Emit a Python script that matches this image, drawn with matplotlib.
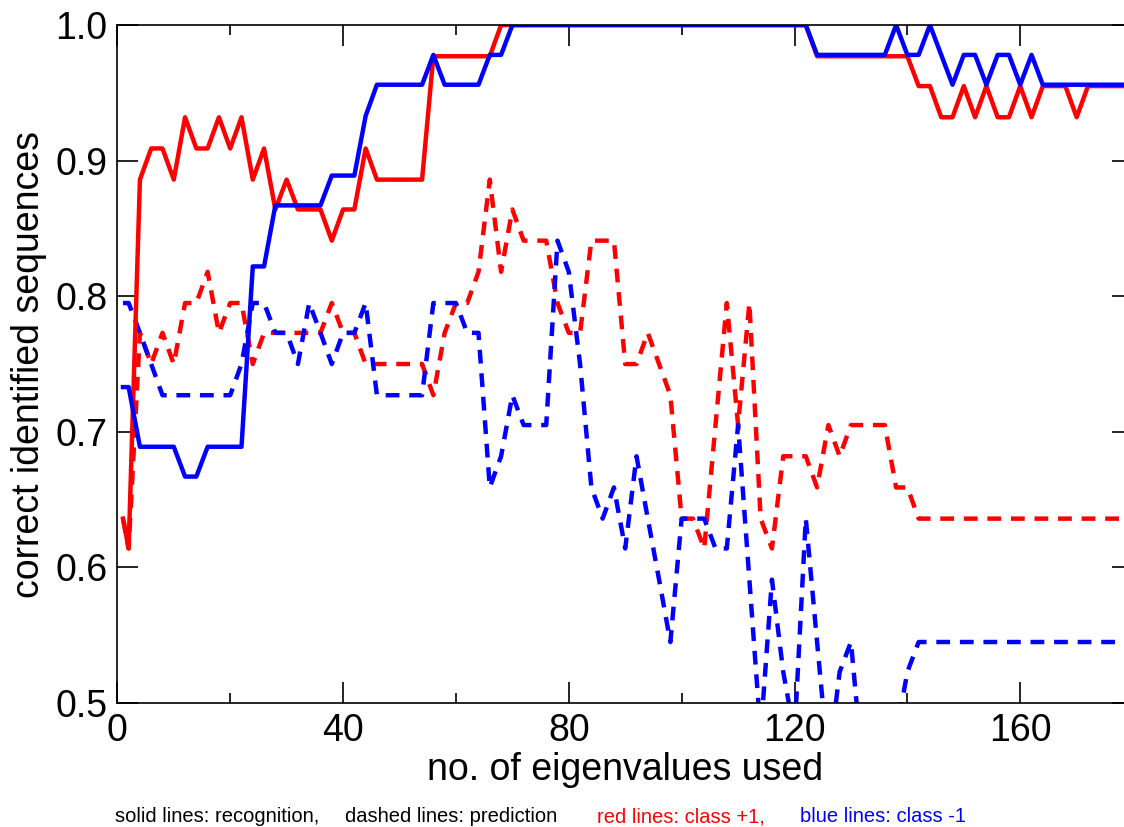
import matplotlib
matplotlib.use("Agg")
import matplotlib.pyplot as plt
from matplotlib.ticker import MultipleLocator, FormatStrFormatter

plt.rcParams['font.family'] = ['Liberation Sans', 'DejaVu Sans']

# number of eigenvalues used
n_eig = [1] + list(range(2, 179, 2))

# recognition, class +1 (red solid)
red_rec = [0.636, 0.614, 0.886, 0.909, 0.909, 0.886, 0.932, 0.909, 0.909, 0.932,
           0.909, 0.932, 0.886, 0.909, 0.864, 0.886, 0.864, 0.864, 0.864, 0.841,
           0.864, 0.864, 0.909, 0.886, 0.886, 0.886, 0.886, 0.886, 0.977, 0.977,
           0.977, 0.977, 0.977, 0.977, 1.0, 1.0, 1.0, 1.0, 1.0, 1.0,
           1.0, 1.0, 1.0, 1.0, 1.0, 1.0, 1.0, 1.0, 1.0, 1.0,
           1.0, 1.0, 1.0, 1.0, 1.0, 1.0, 1.0, 1.0, 1.0, 1.0,
           1.0, 1.0, 0.977, 0.977, 0.977, 0.977, 0.977, 0.977, 0.977, 0.977,
           0.977, 0.955, 0.955, 0.932, 0.932, 0.955, 0.932, 0.955, 0.932, 0.932,
           0.955, 0.932, 0.955, 0.955, 0.955, 0.932, 0.955, 0.955, 0.955, 0.955]

# recognition, class -1 (blue solid)
blue_rec = [0.733, 0.733, 0.689, 0.689, 0.689, 0.689, 0.667, 0.667, 0.689, 0.689,
            0.689, 0.689, 0.822, 0.822, 0.867, 0.867, 0.867, 0.867, 0.867, 0.889,
            0.889, 0.889, 0.933, 0.956, 0.956, 0.956, 0.956, 0.956, 0.978, 0.956,
            0.956, 0.956, 0.956, 0.978, 0.978, 1.0, 1.0, 1.0, 1.0, 1.0,
            1.0, 1.0, 1.0, 1.0, 1.0, 1.0, 1.0, 1.0, 1.0, 1.0,
            1.0, 1.0, 1.0, 1.0, 1.0, 1.0, 1.0, 1.0, 1.0, 1.0,
            1.0, 1.0, 0.978, 0.978, 0.978, 0.978, 0.978, 0.978, 0.978, 1.0,
            0.978, 0.978, 1.0, 0.978, 0.956, 0.978, 0.978, 0.956, 0.978, 0.978,
            0.956, 0.978, 0.956, 0.956, 0.956, 0.956, 0.956, 0.956, 0.956, 0.956]

# prediction, class +1 (red dashed)
red_pred = [0.636, 0.614, 0.773, 0.750, 0.773, 0.750, 0.795, 0.795, 0.818, 0.773,
            0.795, 0.795, 0.750, 0.773, 0.773, 0.773, 0.773, 0.773, 0.773, 0.795,
            0.773, 0.773, 0.750, 0.750, 0.750, 0.750, 0.750, 0.750, 0.727, 0.773,
            0.795, 0.795, 0.818, 0.886, 0.818, 0.864, 0.841, 0.841, 0.841, 0.795,
            0.773, 0.773, 0.841, 0.841, 0.841, 0.750, 0.750, 0.773, 0.750, 0.727,
            0.636, 0.636, 0.614, 0.705, 0.795, 0.705, 0.795, 0.636, 0.614, 0.682,
            0.682, 0.682, 0.659, 0.705, 0.682, 0.705, 0.705, 0.705, 0.705, 0.659,
            0.659, 0.636, 0.636, 0.636, 0.636, 0.636, 0.636, 0.636, 0.636, 0.636,
            0.636, 0.636, 0.636, 0.636, 0.636, 0.636, 0.636, 0.636, 0.636, 0.636]

# prediction, class -1 (blue dashed)
blue_pred = [0.795, 0.795, 0.773, 0.750, 0.727, 0.727, 0.727, 0.727, 0.727, 0.727,
             0.727, 0.750, 0.795, 0.795, 0.773, 0.773, 0.750, 0.795, 0.773, 0.750,
             0.773, 0.773, 0.795, 0.727, 0.727, 0.727, 0.727, 0.727, 0.795, 0.795,
             0.795, 0.773, 0.773, 0.659, 0.682, 0.727, 0.705, 0.705, 0.705, 0.841,
             0.818, 0.750, 0.659, 0.636, 0.659, 0.614, 0.682, 0.636, 0.591, 0.545,
             0.636, 0.636, 0.636, 0.614, 0.614, 0.705, 0.591, 0.477, 0.591, 0.523,
             0.477, 0.636, 0.545, 0.455, 0.523, 0.545, 0.455, 0.455, 0.455, 0.477,
             0.523, 0.545, 0.545, 0.545, 0.545, 0.545, 0.545, 0.545, 0.545, 0.545,
             0.545, 0.545, 0.545, 0.545, 0.545, 0.545, 0.545, 0.545, 0.545, 0.545]

fig = plt.figure(figsize=(11.24, 8.27), dpi=100)
ax = fig.add_axes([0.1044, 0.1499, 0.9037, 0.8198])

dash = (0, (3.1, 2.2))
ax.plot(n_eig, red_pred, color='#ff0000', lw=3.2, linestyle=dash)
ax.plot(n_eig, blue_pred, color='#0000ff', lw=3.2, linestyle=dash)
ax.plot(n_eig, red_rec, color='#ff0000', lw=3.2)
ax.plot(n_eig, blue_rec, color='#0000ff', lw=3.2)

ax.set_xlim(0, 180)
ax.set_ylim(0.5, 1.0)
ax.xaxis.set_major_locator(MultipleLocator(40))
ax.xaxis.set_minor_locator(MultipleLocator(20))
ax.yaxis.set_major_locator(MultipleLocator(0.1))
ax.yaxis.set_major_formatter(FormatStrFormatter('%.1f'))
ax.tick_params(which='both', direction='in', top=True, right=True, width=1.2, labelsize=27, pad=7)
ax.tick_params(which='major', length=15)
ax.tick_params(which='minor', length=7.5)
for s in ax.spines.values():
    s.set_linewidth(1.2)

ax.set_xlabel('no. of eigenvalues used', fontsize=27, labelpad=2)
ax.set_ylabel('correct identified sequences', fontsize=27, labelpad=6)

fig.text(0.1023, 0.0121, 'solid lines: recognition,', fontsize=14.5, color='black', va='center')
fig.text(0.307, 0.0121, 'dashed lines: prediction', fontsize=14.5, color='black', va='center')
fig.text(0.531, 0.0121, 'red lines: class +1,', fontsize=14.5, color='#ff0000', va='center')
fig.text(0.712, 0.0121, 'blue lines: class -1', fontsize=14.5, color='#0000ff', va='center')

fig.savefig('out.png', dpi=100)
